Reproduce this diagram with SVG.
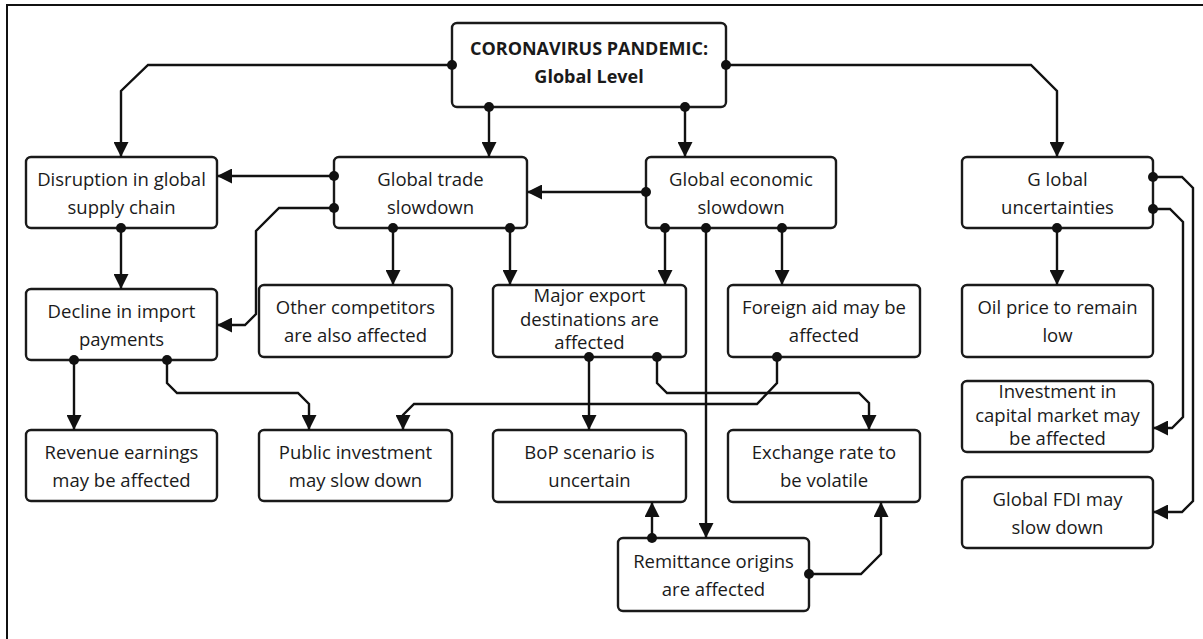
<svg xmlns="http://www.w3.org/2000/svg" width="1203" height="639" viewBox="0 0 1203 639">
  <style>
    .box { fill: #ffffff; stroke: #1a1a1a; stroke-width: 2.4; }
    .lbl { font-family: "Open Sans", "Liberation Sans", sans-serif; font-size: 18.5px; fill: #1a1a1a; text-anchor: middle; }
    .title { font-weight: bold; font-size: 18px; }
    .wire { fill: none; stroke: #111111; stroke-width: 2.4; stroke-linejoin: miter; marker-start: url(#dot); marker-end: url(#arrow); }
    .frame { fill: none; stroke: #111111; stroke-width: 2; }
  </style>
  <defs>
    <marker id="arrow" viewBox="0 0 15 15" refX="15" refY="7.5" markerWidth="15" markerHeight="15" markerUnits="userSpaceOnUse" orient="auto">
      <path d="M0,0 L15,7.5 L0,15 Z" fill="#111111"/>
    </marker>
    <marker id="dot" viewBox="-6 -6 12 12" refX="0" refY="0" markerWidth="12" markerHeight="12" markerUnits="userSpaceOnUse">
      <circle cx="0" cy="0" r="5" fill="#111111"/>
    </marker>
  </defs>

  <rect width="1203" height="639" fill="#ffffff"/>
  <path class="frame" d="M7,639 V5 H1203"/>

  <!-- nodes -->
  <g id="pandemic">
    <rect class="box" x="452" y="23" width="274" height="84" rx="5"/>
    <text class="lbl title" x="589" y="55">CORONAVIRUS PANDEMIC:</text>
    <text class="lbl title" x="589" y="83">Global Level</text>
  </g>
  <g id="disruption">
    <rect class="box" x="26" y="157" width="191" height="71" rx="5"/>
    <text class="lbl" x="121.5" y="186">Disruption in global</text>
    <text class="lbl" x="121.5" y="214">supply chain</text>
  </g>
  <g id="trade">
    <rect class="box" x="334" y="157" width="193" height="71" rx="5"/>
    <text class="lbl" x="430.5" y="186">Global trade</text>
    <text class="lbl" x="430.5" y="214">slowdown</text>
  </g>
  <g id="economic">
    <rect class="box" x="646" y="157" width="190" height="71" rx="5"/>
    <text class="lbl" x="741" y="186">Global economic</text>
    <text class="lbl" x="741" y="214">slowdown</text>
  </g>
  <g id="uncertainties">
    <rect class="box" x="962" y="157" width="191" height="71" rx="5"/>
    <text class="lbl" x="1057.5" y="186">G lobal</text>
    <text class="lbl" x="1057.5" y="214">uncertainties</text>
  </g>
  <g id="decline">
    <rect class="box" x="26" y="289" width="191" height="71" rx="5"/>
    <text class="lbl" x="121.5" y="318">Decline in import</text>
    <text class="lbl" x="121.5" y="346">payments</text>
  </g>
  <g id="competitors">
    <rect class="box" x="259" y="285" width="193" height="72" rx="5"/>
    <text class="lbl" x="355.5" y="314">Other competitors</text>
    <text class="lbl" x="355.5" y="342">are also affected</text>
  </g>
  <g id="export">
    <rect class="box" x="493" y="285" width="193" height="72" rx="5"/>
    <text class="lbl" x="589.5" y="302">Major export</text>
    <text class="lbl" x="589.5" y="326">destinations are</text>
    <text class="lbl" x="589.5" y="349">affected</text>
  </g>
  <g id="aid">
    <rect class="box" x="728" y="285" width="192" height="72" rx="5"/>
    <text class="lbl" x="824" y="314">Foreign aid may be</text>
    <text class="lbl" x="824" y="342">affected</text>
  </g>
  <g id="oil">
    <rect class="box" x="962" y="285" width="191" height="72" rx="5"/>
    <text class="lbl" x="1057.5" y="314">Oil price to remain</text>
    <text class="lbl" x="1057.5" y="342">low</text>
  </g>
  <g id="capital">
    <rect class="box" x="962" y="381" width="191" height="71" rx="5"/>
    <text class="lbl" x="1057.5" y="398">Investment in</text>
    <text class="lbl" x="1057.5" y="422">capital market may</text>
    <text class="lbl" x="1057.5" y="445">be affected</text>
  </g>
  <g id="fdi">
    <rect class="box" x="962" y="477" width="191" height="71" rx="5"/>
    <text class="lbl" x="1057.5" y="506">Global FDI may</text>
    <text class="lbl" x="1057.5" y="534">slow down</text>
  </g>
  <g id="revenue">
    <rect class="box" x="26" y="430" width="191" height="71" rx="5"/>
    <text class="lbl" x="121.5" y="459">Revenue earnings</text>
    <text class="lbl" x="121.5" y="487">may be affected</text>
  </g>
  <g id="public">
    <rect class="box" x="259" y="430" width="193" height="71" rx="5"/>
    <text class="lbl" x="355.5" y="459">Public investment</text>
    <text class="lbl" x="355.5" y="487">may slow down</text>
  </g>
  <g id="bop">
    <rect class="box" x="493" y="430" width="193" height="72" rx="5"/>
    <text class="lbl" x="589.5" y="459">BoP scenario is</text>
    <text class="lbl" x="589.5" y="487">uncertain</text>
  </g>
  <g id="exchange">
    <rect class="box" x="728" y="430" width="192" height="72" rx="5"/>
    <text class="lbl" x="824" y="459">Exchange rate to</text>
    <text class="lbl" x="824" y="487">be volatile</text>
  </g>
  <g id="remittance">
    <rect class="box" x="618" y="538" width="191" height="73" rx="5"/>
    <text class="lbl" x="713.5" y="568">Remittance origins</text>
    <text class="lbl" x="713.5" y="596">are affected</text>
  </g>

  <!-- connectors, drawn last so the start dots sit on top of the box edges -->
  <g id="connectors">
    <path class="wire" d="M452,65 H148 L121,91 V157"/>
    <path class="wire" d="M726,65 H1031 L1057,91 V157"/>
    <path class="wire" d="M489,107 V157"/>
    <path class="wire" d="M685,107 V157"/>
    <path class="wire" d="M334,176 H217"/>
    <path class="wire" d="M646,192 H527"/>
    <path class="wire" d="M334,208 H279 L256,231 V314 L245,325 H217"/>
    <path class="wire" d="M121,228 V289"/>
    <path class="wire" d="M393,228 V285"/>
    <path class="wire" d="M510,228 V285"/>
    <path class="wire" d="M665,228 V285"/>
    <path class="wire" d="M706,228 V538"/>
    <path class="wire" d="M782,228 V285"/>
    <path class="wire" d="M1057,228 V285"/>
    <path class="wire" d="M1153,209 H1170 L1183,222 V417 L1172,428 H1153"/>
    <path class="wire" d="M1153,177 H1182 L1193,188 V501 L1182,512 H1153"/>
    <path class="wire" d="M74,360 V430"/>
    <path class="wire" d="M167,360 V383 L177,393 H298 L309,404 V430"/>
    <path class="wire" d="M777,357 V383 L757,404 H414 L403,415 V430"/>
    <path class="wire" d="M589,357 V430"/>
    <path class="wire" d="M657,357 V383 L667,393 H859 L869,403 V430"/>
    <path class="wire" d="M652,538 V502"/>
    <path class="wire" d="M809,574 H861 L881,554 V502"/>
  </g>
</svg>
